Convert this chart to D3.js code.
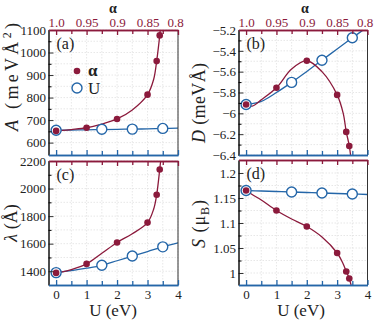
<!DOCTYPE html>
<html>
<head>
<meta charset="utf-8">
<script src="https://cdn.jsdelivr.net/npm/d3@7"></script>
<style>
body { margin: 0; background: #fff; }
svg text { font-family: "Liberation Serif", "Times New Roman", Times, serif; fill: #222; }
</style>
</head>
<body>
<main></main>
<script>
// measured points
const alphaPts = [1.0, 0.95, 0.9, 0.85, 0.835, 0.83];
const uPts = [0, 1.5, 2.5, 3.5];

const A_alpha = [652, 666, 705, 813, 962, 1076];
const A_U = [655, 659, 660, 663];
const D_alpha = [-5.915, -5.755, -5.495, -5.823, -6.178, -6.313];
const D_U = [-5.915, -5.703, -5.49, -5.275];
const L_alpha = [1388, 1453, 1609, 1753, 1955, 2138];
const L_U = [1390, 1443, 1510, 1577];
const S_alpha = [1.165, 1.125, 1.093, 1.04, 1.003, 0.989];
const S_U = [1.165, 1.162, 1.16, 1.158];

// fitted curves
const alphaFit = [1.0, 0.99, 0.975, 0.95, 0.925, 0.9, 0.875, 0.85, 0.84, 0.835, 0.83, 0.826];
const A_alphaFit = [652, 654, 658, 666, 682, 705, 745, 813, 880, 962, 1076, 1200];
const D_alphaFit = [-5.915, -5.93, -5.87, -5.755, -5.575, -5.495, -5.6, -5.823, -6.0, -6.178, -6.313, -6.5];
const L_alphaFit = [1388, 1395, 1412, 1453, 1530, 1609, 1672, 1753, 1850, 1955, 2138, 2300];
const S_alphaFit = [1.165, 1.157, 1.146, 1.125, 1.108, 1.093, 1.072, 1.04, 1.018, 1.003, 0.989, 0.97];

const uFit = [0, 0.5, 1, 1.5, 2, 2.5, 3, 3.5, 4];
const A_UFit = [655, 656, 657, 658, 659, 660, 661, 663, 664];
const D_UFit = [-5.915, -5.885, -5.8, -5.703, -5.598, -5.49, -5.383, -5.275, -5.17];
const L_UFit = [1390, 1405, 1422, 1443, 1476, 1510, 1543, 1577, 1606];
const S_UFit = [1.165, 1.164, 1.163, 1.162, 1.161, 1.16, 1.159, 1.158, 1.157];

// ticks
const uTicks = [0, 1, 2, 3, 4];
const uMinor = [0.5, 1.5, 2.5, 3.5];
const alphaTicks = [1.0, 0.95, 0.9, 0.85, 0.8];
const alphaMinor = [0.975, 0.925, 0.875, 0.825];

const red = "#8b1a3c", blue = "#2466a8";

const panels = [
    {tag: "(a)", x0: 48.5, x1: 178, y0: 30, y1: 155, yDom: [545, 1100],
     yTicks: [600, 700, 800, 900, 1000, 1100], yMinor: [650, 750, 850, 950, 1050],
     red: A_alpha, blue: A_U, redFit: A_alphaFit, blueFit: A_UFit, topLabels: true, bottomLabels: false},
    {tag: "(b)", x0: 238.5, x1: 367.5, y0: 30, y1: 155, yDom: [-6.4, -5.2],
     yTicks: [-6.4, -6.2, -6, -5.8, -5.6, -5.4, -5.2], yMinor: [-6.3, -6.1, -5.9, -5.7, -5.5, -5.3],
     red: D_alpha, blue: D_U, redFit: D_alphaFit, blueFit: D_UFit, topLabels: true, bottomLabels: false},
    {tag: "(c)", x0: 48.5, x1: 178, y0: 161, y1: 285, yDom: [1300, 2200],
     yTicks: [1400, 1600, 1800, 2000, 2200], yMinor: [1500, 1700, 1900, 2100],
     red: L_alpha, blue: L_U, redFit: L_alphaFit, blueFit: L_UFit, topLabels: false, bottomLabels: true},
    {tag: "(d)", x0: 238.5, x1: 367.5, y0: 160, y1: 285, yDom: [0.976, 1.226],
     yTicks: [1, 1.05, 1.1, 1.15, 1.2], yMinor: [1.025, 1.075, 1.125, 1.175],
     red: S_alpha, blue: S_U, redFit: S_alphaFit, blueFit: S_UFit, topLabels: false, bottomLabels: true}
];

const svg = d3.select("main").append("svg")
    .attr("width", 374)
    .attr("height", 320);

const fmtY = (d) => {
    let s = String(+d.toFixed(3));
    return s.replace("-", "\u2212");
};

panels.forEach((p, i) => {
    const x = d3.scaleLinear().domain([-0.25, 4]).range([p.x0, p.x1]);
    const xa = d3.scaleLinear().domain([1.0125, 0.8]).range([p.x0, p.x1]);
    const y = d3.scaleLinear().domain(p.yDom).range([p.y1, p.y0]);

    const g = svg.append("g");

    // grid
    g.selectAll(".gx").data(uTicks.concat(uMinor)).enter().append("line")
        .attr("x1", (d) => x(d)).attr("x2", (d) => x(d))
        .attr("y1", p.y0).attr("y2", p.y1)
        .attr("stroke", "#d6d6d6").attr("stroke-width", 0.6).attr("stroke-dasharray", "1.5,1.5");
    g.selectAll(".gy").data(p.yTicks.concat(p.yMinor)).enter().append("line")
        .attr("x1", p.x0).attr("x2", p.x1)
        .attr("y1", (d) => y(d)).attr("y2", (d) => y(d))
        .attr("stroke", "#d6d6d6").attr("stroke-width", 0.6).attr("stroke-dasharray", "1.5,1.5");

    // clip
    svg.append("clipPath").attr("id", "clip" + i)
        .append("rect").attr("x", p.x0).attr("y", p.y0)
        .attr("width", p.x1 - p.x0).attr("height", p.y1 - p.y0);

    const plot = g.append("g").attr("clip-path", "url(#clip" + i + ")");

    const lineU = d3.line()
        .x((d, j) => x(uFit[j]))
        .y((d) => y(d))
        .curve(d3.curveCatmullRom);
    const lineA = d3.line()
        .x((d, j) => xa(alphaFit[j]))
        .y((d) => y(d))
        .curve(d3.curveCatmullRom);

    plot.append("path").datum(p.blueFit)
        .attr("fill", "none").attr("stroke", blue).attr("stroke-width", 1.3)
        .attr("d", lineU);
    plot.append("path").datum(p.redFit)
        .attr("fill", "none").attr("stroke", red).attr("stroke-width", 1.3)
        .attr("d", lineA);

    plot.selectAll(".bdot").data(p.blue).enter().append("circle")
        .attr("cx", (d, j) => x(uPts[j]))
        .attr("cy", (d) => y(d))
        .attr("r", 5)
        .attr("fill", "#fff").attr("stroke", blue).attr("stroke-width", 1.4);
    plot.selectAll(".rdot").data(p.red).enter().append("circle")
        .attr("cx", (d, j) => xa(alphaPts[j]))
        .attr("cy", (d) => y(d))
        .attr("r", 3.3)
        .attr("fill", red);

    // left axis
    const yAxis = d3.axisLeft(y).tickValues(p.yTicks).tickSize(-5).tickSizeOuter(0).tickPadding(2.5).tickFormat(fmtY);
    const yAx = g.append("g").attr("transform", "translate(" + p.x0 + ",0)").call(yAxis);
    g.append("g").attr("transform", "translate(" + p.x0 + ",0)")
        .call(d3.axisLeft(y).tickValues(p.yMinor).tickSize(-3).tickSizeOuter(0).tickFormat(""));

    // right border
    g.append("line").attr("x1", p.x1).attr("x2", p.x1).attr("y1", p.y0).attr("y2", p.y1)
        .attr("stroke", "#333").attr("stroke-width", 1);

    // bottom (U) axis
    const xAxis = d3.axisBottom(x).tickValues(uTicks).tickSize(-5).tickSizeOuter(0).tickPadding(5)
        .tickFormat(p.bottomLabels ? d3.format("d") : "");
    const xAx = g.append("g").attr("transform", "translate(0," + p.y1 + ")").call(xAxis);
    const xMin = g.append("g").attr("transform", "translate(0," + p.y1 + ")")
        .call(d3.axisBottom(x).tickValues(uMinor).tickSize(-4).tickSizeOuter(0).tickFormat(""));
    [xAx, xMin].forEach((a) => {
        a.selectAll("line, path").attr("stroke", blue).attr("stroke-width", 1.3);
    });

    // top (alpha) axis
    const tAxis = d3.axisTop(xa).tickValues(alphaTicks).tickSize(-5).tickSizeOuter(0).tickPadding(3)
        .tickFormat(p.topLabels ? ((d) => d === 1 ? "1.0" : String(d)) : "");
    const tAx = g.append("g").attr("transform", "translate(0," + p.y0 + ")").call(tAxis);
    const tMin = g.append("g").attr("transform", "translate(0," + p.y0 + ")")
        .call(d3.axisTop(xa).tickValues(alphaMinor).tickSize(-4).tickSizeOuter(0).tickFormat(""));
    [tAx, tMin].forEach((a) => {
        a.selectAll("line, path").attr("stroke", red).attr("stroke-width", 1.3);
    });
    tAx.selectAll("text").style("fill", red)
        .attr("dx", (d) => d === 0.8 ? -3 : 0);

    [yAx, xAx, tAx].forEach((a) => {
        a.selectAll("text").attr("font-size", 13);
    });
    yAx.selectAll("line, path").attr("stroke", "#333");

    // panel tag
    g.append("text").attr("x", p.x0 + 8).attr("y", p.y0 + 19)
        .attr("font-size", 16).text(p.tag);
});

// top titles
[113, 305].forEach((cx) => {
    svg.append("text").attr("x", cx).attr("y", 13)
        .attr("text-anchor", "middle").attr("font-size", 14).attr("font-weight", "bold")
        .text("\u03b1");
});

// bottom titles
[113, 301].forEach((cx) => {
    svg.append("text").attr("x", cx).attr("y", 316)
        .attr("text-anchor", "middle").attr("font-size", 17)
        .text("U (eV)");
});

// y titles
const yTitle = (x, y, len) => {
    const t = svg.append("text")
        .attr("transform", "translate(" + x + "," + y + ") rotate(-90)")
        .attr("text-anchor", "middle").attr("font-size", 18);
    if (len) t.attr("textLength", len).attr("lengthAdjust", "spacing");
    return t;
};

let t = yTitle(18, 77, 108);
t.append("tspan").attr("font-style", "italic").text("A");
t.append("tspan").text(" (meV\u00c5");
t.append("tspan").attr("font-size", 12).attr("dy", -7).text("2");
t.append("tspan").attr("dy", 7).text(")");

t = yTitle(205, 103, 80);
t.append("tspan").attr("font-style", "italic").text("D");
t.append("tspan").text(" (meV\u00c5)");

t = yTitle(17, 223);
t.append("tspan").attr("font-style", "italic").text("\u03bb");
t.append("tspan").text(" (\u00c5)");

t = yTitle(205, 224, 48);
t.append("tspan").attr("font-style", "italic").text("S");
t.append("tspan").text(" (\u03bc");
t.append("tspan").attr("font-size", 12).attr("dy", 4).text("B");
t.append("tspan").attr("dy", -4).text(")");

// legend in (a)
svg.append("circle").attr("cx", 77).attr("cy", 71).attr("r", 3.3).attr("fill", red);
svg.append("text").attr("x", 88).attr("y", 76).attr("font-size", 17).attr("font-weight", "bold").text("\u03b1");
svg.append("circle").attr("cx", 77).attr("cy", 88).attr("r", 5)
    .attr("fill", "#fff").attr("stroke", blue).attr("stroke-width", 1.4);
svg.append("text").attr("x", 88).attr("y", 94).attr("font-size", 17).text("U");
</script>
</body>
</html>
